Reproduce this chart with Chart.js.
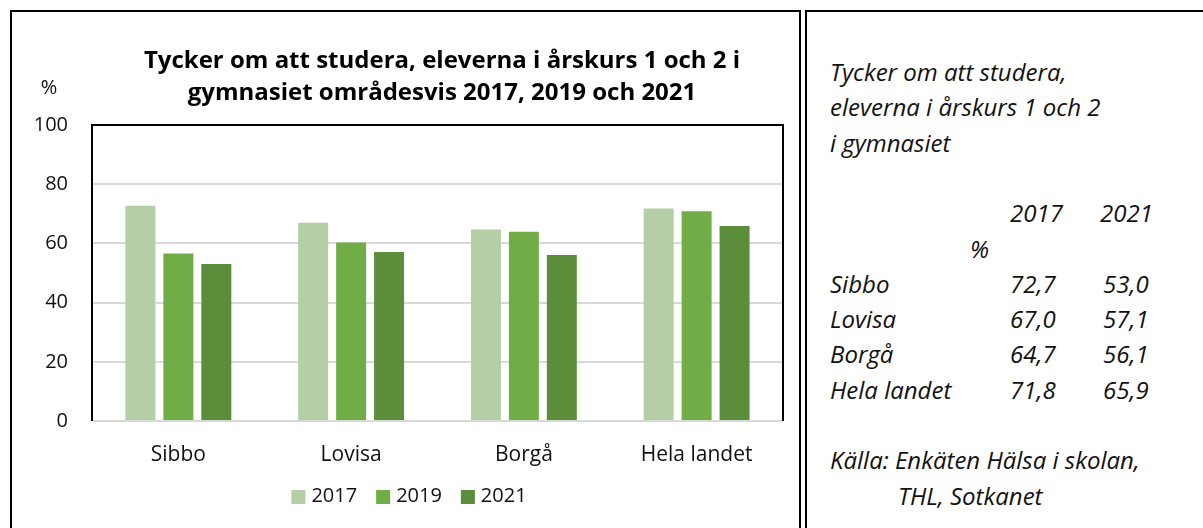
<!DOCTYPE html>
<html lang="sv">
<head>
<meta charset="utf-8">
<title>Tycker om att studera</title>
<script src="https://cdn.jsdelivr.net/npm/chart.js@4.4.1/dist/chart.umd.min.js"></script>
<style>
  html, body { margin: 0; padding: 0; background: #fff; }
  body {
    width: 1203px; height: 528px; position: relative; overflow: hidden;
    font-family: "Open Sans", "Noto Sans", sans-serif; color: #000;
  }
  .panel {
    position: absolute; top: 10px; box-sizing: border-box;
    border: 2px solid #000; border-bottom: none;
  }
  #chartPanel { left: 10px; width: 791px; height: 518px; }
  #tablePanel { left: 805px; width: 420px; height: 518px; border-right: none; }
  #chartWrap { position: absolute; left: 12px; top: 12px; width: 786px; height: 516px; }
  .t {
    position: absolute; font-style: italic; font-size: 24px;
    line-height: 36px; white-space: nowrap; color: #111;
  }
</style>
</head>
<body>
<div id="chartPanel" class="panel"></div>
<div id="tablePanel" class="panel"></div>
<div id="chartWrap"><canvas id="studyChart" width="786" height="516"></canvas></div>
<div id="tableText"></div>

<script>
// --- data ---
const years = ['2017', '2019', '2021'];
const areas = ['Sibbo', 'Lovisa', 'Borgå', 'Hela landet'];
const share2017 = [72.7, 67.0, 64.7, 71.8];
const share2019 = [56.6, 60.3, 63.9, 70.9];
const share2021 = [53.0, 57.1, 56.1, 65.9];
const yTicks = [0, 20, 40, 60, 80, 100];

const titleLines = [
  'Tycker om att studera, eleverna i årskurs 1 och 2 i',
  'gymnasiet områdesvis 2017, 2019 och 2021'
];
const colors = ['#B4CEA6', '#70AD47', '#5A8E3A'];
const FONT = '"Open Sans", "Noto Sans", sans-serif';

// --- plugins: plot frame, title, "%" label, legend ---
const frame = {
  id: 'frame',
  afterDatasetsDraw(chart) {
    const { ctx, chartArea: a } = chart;
    ctx.save();
    ctx.strokeStyle = '#000';
    ctx.lineWidth = 2;
    ctx.beginPath();
    ctx.moveTo(a.left, a.bottom);
    ctx.lineTo(a.left, a.top);
    ctx.lineTo(a.right, a.top);
    ctx.lineTo(a.right, a.bottom);
    ctx.stroke();
    ctx.restore();
  }
};

const headings = {
  id: 'headings',
  afterDraw(chart) {
    const ctx = chart.ctx;
    ctx.save();
    ctx.fillStyle = '#000';
    ctx.textAlign = 'center';
    ctx.textBaseline = 'alphabetic';
    ctx.font = 'bold 24px ' + FONT;
    ctx.fillText(titleLines[0], 430, 56);
    ctx.fillText(titleLines[1], 430, 88);

    ctx.font = '20px ' + FONT;
    ctx.textBaseline = 'middle';
    ctx.fillStyle = '#111';
    ctx.fillText('%', 37, 76);
    ctx.restore();
  }
};

const bottomLegend = {
  id: 'bottomLegend',
  afterDraw(chart) {
    const ctx = chart.ctx;
    const box = 14, gap = 6, itemGap = 19, cx = 397, cy = 484;
    ctx.save();
    ctx.font = '20px ' + FONT;
    ctx.textBaseline = 'middle';
    ctx.textAlign = 'left';
    const items = chart.data.datasets.map(ds => ({
      label: ds.label, color: ds.backgroundColor, w: ctx.measureText(ds.label).width
    }));
    const total = items.reduce((s, it) => s + box + gap + it.w, 0) + itemGap * (items.length - 1);
    let x = cx - total / 2;
    items.forEach(it => {
      ctx.fillStyle = it.color;
      ctx.fillRect(x, cy - box / 2 + 1, box, box);
      ctx.fillStyle = '#111';
      ctx.fillText(it.label, x + box + gap, cy);
      x += box + gap + it.w + itemGap;
    });
    ctx.restore();
  }
};

new Chart(document.getElementById('studyChart'), {
  type: 'bar',
  data: {
    labels: areas,
    datasets: [share2017, share2019, share2021].map((vals, i) => ({
      label: years[i],
      data: vals,
      backgroundColor: colors[i],
      borderWidth: 0,
      categoryPercentage: 0.659,
      barPercentage: 0.79
    }))
  },
  options: {
    responsive: false,
    animation: false,
    layout: { padding: { left: 0, right: 15, top: 113, bottom: 0 } },
    plugins: {
      legend: { display: false },
      title: { display: false },
      tooltip: { enabled: false }
    },
    scales: {
      x: {
        grid: { display: false, drawTicks: false },
        border: { display: false },
        ticks: { color: '#111', font: { family: FONT, size: 21 }, padding: 21 },
        afterFit(scale) { scale.height = 107; }
      },
      y: {
        min: 0,
        max: 100,
        grid: { color: '#D9D9D9', lineWidth: 2, drawTicks: false },
        border: { display: false },
        ticks: { color: '#111', font: { family: FONT, size: 20 }, padding: 24 },
        afterBuildTicks(scale) { scale.ticks = yTicks.map(v => ({ value: v })); },
        afterFit(scale) { scale.width = 80; }
      }
    }
  },
  plugins: [frame, headings, bottomLegend]
});

// --- side table, built from the same arrays ---
const fmt = v => v.toFixed(1).replace('.', ',');
const rowTop = i => 73 + i * 35.3 - 19;
const cells = [
  [0, 830, 'Tycker om att studera,'],
  [1, 830, 'eleverna i årskurs 1 och 2'],
  [2, 830, 'i gymnasiet'],
  [4, 1010, years[0]],
  [4, 1100, years[2]],
  [5, 970, '%']
];
areas.forEach((name, i) => {
  cells.push([6 + i, 830, name]);
  cells.push([6 + i, 1010, fmt(share2017[i])]);
  cells.push([6 + i, 1103, fmt(share2021[i])]);
});
cells.push([11, 830, 'Källa: Enkäten Hälsa i skolan,']);
cells.push([12, 898, 'THL, Sotkanet']);

const tableText = document.getElementById('tableText');
cells.forEach(([row, left, text]) => {
  const el = document.createElement('div');
  el.className = 't';
  el.style.left = left + 'px';
  el.style.top = rowTop(row) + 'px';
  el.textContent = text;
  tableText.appendChild(el);
});
</script>
</body>
</html>
